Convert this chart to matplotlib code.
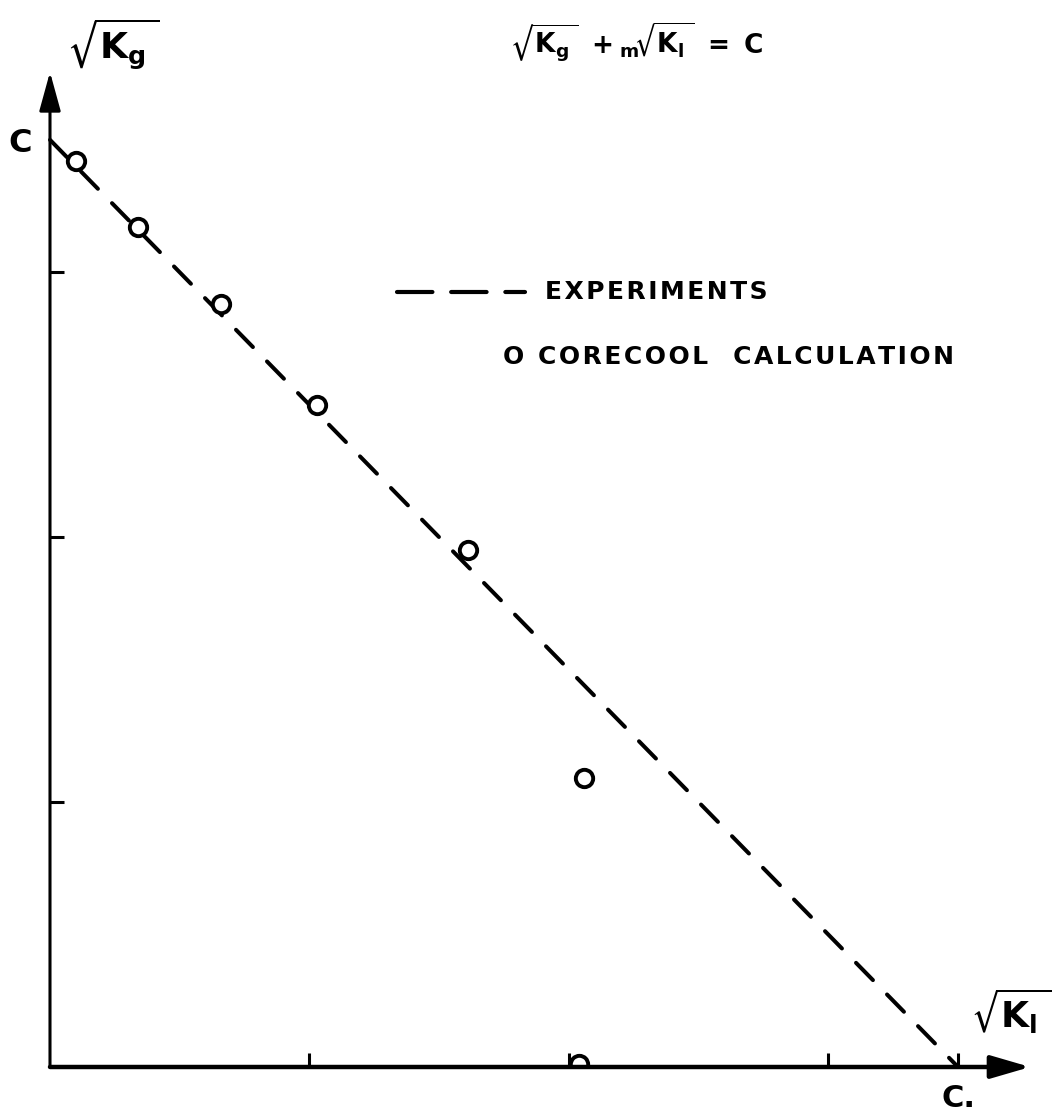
import matplotlib
matplotlib.use("Agg")
import matplotlib.pyplot as plt
from matplotlib.patches import Rectangle

# sqrt(Kg) + m sqrt(Kl) = C, axes in tick units, C = 3.5
C = 3.5
exp_x = [0.0, C]
exp_y = [C, 0.0]

calc_x = [0.10, 0.34, 0.66, 1.03, 1.61, 2.06, 2.04]
calc_y = [3.42, 3.17, 2.88, 2.50, 1.95, 1.09, 0.012]

x_ticks = [1, 2, 3, C]
x_ticklabels = ['', '', '', 'C.']
y_ticks = [1, 2, 3]

plt.rcParams['font.family'] = 'DejaVu Sans'
plt.rcParams['font.weight'] = 'bold'
plt.rcParams['mathtext.fontset'] = 'dejavusans'
plt.rcParams['mathtext.default'] = 'bf'


def spaced(s):
    # wide lettering: hair space between every character
    return '\u200a'.join(s)


fig = plt.figure(figsize=(10.6, 11.2), dpi=100)
ax = fig.add_axes([0, 0, 1, 1])
ax.set_xlim(-0.1927, 3.893)
ax.set_ylim(-0.2001, 4.028)

for s in ['top', 'right']:
    ax.spines[s].set_visible(False)
for s in ['left', 'bottom']:
    ax.spines[s].set_position(('data', 0))
    ax.spines[s].set_visible(False)

# axes drawn as arrows
ax.annotate('', xy=(3.778, 0), xytext=(0, 0),
            arrowprops=dict(arrowstyle='-|>,head_length=1.2,head_width=0.35',
                            lw=3.2, color='black', shrinkA=0, shrinkB=0,
                            mutation_scale=20), zorder=4)
ax.annotate('', xy=(0, 3.756), xytext=(0, 0),
            arrowprops=dict(arrowstyle='-|>,head_length=1.2,head_width=0.33',
                            lw=2.2, color='black', shrinkA=0, shrinkB=0,
                            mutation_scale=20), zorder=4)

ax.set_xticks(x_ticks, labels=x_ticklabels)
ax.set_yticks(y_ticks, labels=['', '', ''])
ax.set_yticks([C], labels=['C'], minor=True)
ax.tick_params(axis='x', direction='in', length=10, width=2.2, pad=12,
               labelsize=22)
ax.tick_params(axis='y', which='major', direction='in', length=10, width=2.2)
ax.tick_params(axis='y', which='minor', length=0, pad=13, labelsize=23)
for lab in ax.get_xticklabels() + ax.get_yticklabels(minor=True):
    lab.set_fontweight('bold')

# experiments: dashed straight line
ax.plot(exp_x, exp_y, color='black', lw=2.9, dashes=(6, 5),
        dash_capstyle='round', zorder=2)

# corecool calculation: open circles
pts, = ax.plot(calc_x, calc_y, 'o', ms=12.5, mew=2.8, mec='black',
               mfc='white', zorder=3)
pts.set_clip_path(Rectangle((-1, 0), 10, 10, transform=ax.transData))

# axis labels
ax.text(0.065, 3.86, r'$\sqrt{K_g\,}$', fontsize=26, ha='left', va='center')
ax.text(3.55, 0.21, r'$\sqrt{K_l\,}$', fontsize=26, ha='left', va='center')

# relation at the top
ax.text(510 / 1060, 1 - 42 / 1120,
        r'$\sqrt{K_g\,}\ +_{m}\!\sqrt{K_l\,}\ =\ C$',
        transform=ax.transAxes, fontsize=19, ha='left', va='center')

# key
ax.plot([397 / 1060, 525 / 1060], [1 - 292 / 1120] * 2, transform=ax.transAxes,
        color='black', lw=3.0, dashes=(8.5, 4.5), dash_capstyle='round')
ax.text(545 / 1060, 1 - 292 / 1120, spaced('EXPERIMENTS'),
        transform=ax.transAxes, fontsize=18, fontweight='bold',
        ha='left', va='center')
ax.text(503 / 1060, 1 - 357 / 1120, spaced('O CORECOOL  CALCULATION'),
        transform=ax.transAxes, fontsize=18, fontweight='bold',
        ha='left', va='center')

fig.savefig('out.png', dpi=100, facecolor='white')
